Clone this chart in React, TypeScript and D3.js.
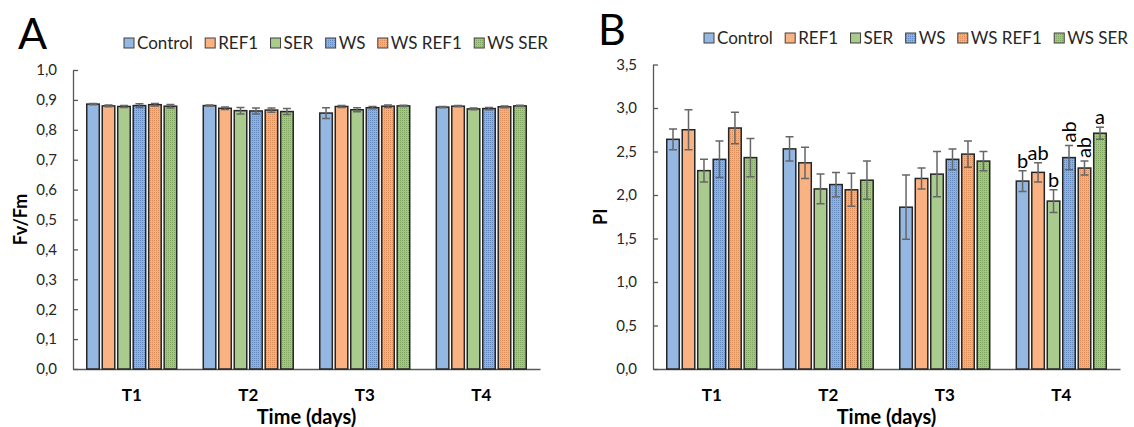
import React, { useEffect, useRef } from 'react';
import * as d3 from 'd3';

const timePoints = ['T1', 'T2', 'T3', 'T4'];
const treatments = ['Control', 'REF1', 'SER', 'WS', 'WS REF1', 'WS SER'];
const baseColors = ['#95b8e2', '#fbb283', '#a9cb8e', '#8fb0da', '#f7ad7c', '#a3c588'];
const dotColors = ['', '', '', '#4a72aa', '#c97b45', '#6a934b'];

// panel A: Fv/Fm, one row per treatment, T1..T4
const fvfmMean = [
  [0.886, 0.881, 0.856, 0.876],
  [0.880, 0.872, 0.878, 0.879],
  [0.878, 0.864, 0.867, 0.870],
  [0.881, 0.863, 0.874, 0.871],
  [0.884, 0.866, 0.879, 0.877],
  [0.879, 0.861, 0.880, 0.880],
];
const fvfmErr = [
  [0.002, 0.002, 0.018, 0.002],
  [0.003, 0.004, 0.003, 0.002],
  [0.003, 0.011, 0.007, 0.003],
  [0.006, 0.010, 0.004, 0.004],
  [0.004, 0.007, 0.004, 0.003],
  [0.006, 0.010, 0.002, 0.002],
];
const fvfmTicks = [0, 0.1, 0.2, 0.3, 0.4, 0.5, 0.6, 0.7, 0.8, 0.9, 1.0];

// panel B: PI
const piMean = [
  [2.64, 2.53, 1.86, 2.16],
  [2.75, 2.37, 2.19, 2.26],
  [2.28, 2.07, 2.24, 1.93],
  [2.41, 2.12, 2.41, 2.43],
  [2.77, 2.06, 2.47, 2.31],
  [2.43, 2.17, 2.39, 2.71],
];
const piErr = [
  [0.12, 0.14, 0.37, 0.12],
  [0.23, 0.18, 0.12, 0.11],
  [0.13, 0.17, 0.26, 0.13],
  [0.21, 0.14, 0.12, 0.14],
  [0.18, 0.19, 0.15, 0.08],
  [0.22, 0.22, 0.11, 0.07],
];
const piTicks = [0, 0.5, 1.0, 1.5, 2.0, 2.5, 3.0, 3.5];
// significance letters at T4
const piLetters = ['b', 'ab', 'b', 'ab', 'ab', 'a'];
const piLetterVertical = [false, false, false, true, true, false];

const FONT = 'Lato, "Open Sans", sans-serif';
const AXIS_COLOR = '#595959';

function drawPanel(svg, opts) {
  const { dx, letter, letterY, yLabel, yMax, ticks, means, errs, yTop, legendY, letters, vertical } = opts;

  const x0 = d3.scaleBand()
    .domain(timePoints)
    .range([73 + dx, 540 + dx])
    .paddingInner(0.228)
    .paddingOuter(0.118);

  const x1 = d3.scaleBand()
    .domain(treatments)
    .range([0, x0.bandwidth()])
    .paddingInner(0.19)
    .paddingOuter(0);

  const y = d3.scaleLinear().domain([0, yMax]).range([369, yTop]);

  const g = svg.append('g');

  // panel letter
  g.append('text')
    .attr('x', 18 + dx)
    .attr('y', letterY)
    .attr('font-family', FONT)
    .attr('font-size', 43)
    .attr('fill', '#000')
    .text(letter);

  // y axis, ticks inside
  const yAxis = g.append('g')
    .attr('transform', `translate(${73 + dx},0)`)
    .call(d3.axisLeft(y)
      .tickValues(ticks)
      .tickSizeInner(-5)
      .tickSizeOuter(0)
      .tickPadding(16)
      .tickFormat(d => d3.format('.1f')(d).replace('.', ',')));
  yAxis.select('.domain').attr('stroke', AXIS_COLOR).attr('stroke-width', 1.3);
  yAxis.selectAll('.tick line').attr('stroke', AXIS_COLOR).attr('stroke-width', 1.3);
  yAxis.selectAll('.tick text')
    .attr('font-family', FONT)
    .attr('font-size', 15)
    .attr('fill', '#262626');

  // x axis
  const xAxis = g.append('g')
    .attr('transform', 'translate(0,369)')
    .call(d3.axisBottom(x0).tickSize(0).tickPadding(20));
  xAxis.select('.domain').attr('stroke', AXIS_COLOR).attr('stroke-width', 1.3);
  xAxis.selectAll('.tick text')
    .attr('font-family', FONT)
    .attr('font-size', 17)
    .attr('font-weight', 'bold')
    .attr('fill', '#000');

  // axis titles
  g.append('text')
    .attr('x', (73 + 540) / 2 + dx)
    .attr('y', 424)
    .attr('text-anchor', 'middle')
    .attr('font-family', FONT)
    .attr('font-size', 20)
    .attr('font-weight', 'bold')
    .text('Time (days)');

  g.append('text')
    .attr('transform', `translate(${27 + dx},${(369 + yTop) / 2}) rotate(-90)`)
    .attr('text-anchor', 'middle')
    .attr('font-family', FONT)
    .attr('font-size', 18)
    .attr('font-weight', 'bold')
    .text(yLabel);

  // bars
  const rows = [];
  treatments.forEach((t, i) => {
    timePoints.forEach((tp, j) => {
      rows.push({ t, i, tp, j, v: means[i][j], e: errs[i][j] });
    });
  });

  const fillFor = i => (dotColors[i] ? `url(#dots-${i})` : baseColors[i]);

  g.selectAll('.bar')
    .data(rows)
    .enter()
    .append('rect')
    .attr('class', 'bar')
    .attr('x', d => x0(d.tp) + x1(d.t))
    .attr('y', d => y(d.v))
    .attr('width', x1.bandwidth())
    .attr('height', d => y(0) - y(d.v))
    .attr('fill', d => fillFor(d.i))
    .attr('stroke', '#262626')
    .attr('stroke-width', 1.5);

  // error bars
  const cx = d => x0(d.tp) + x1(d.t) + x1.bandwidth() / 2;
  const eg = g.append('g').attr('stroke', '#666').attr('stroke-width', 1.5);
  eg.selectAll('.err')
    .data(rows)
    .enter()
    .append('path')
    .attr('fill', 'none')
    .attr('d', d => {
      const top = y(d.v + d.e), bot = y(d.v - d.e), c = cx(d);
      return `M${c},${top}V${bot}M${c - 4},${top}H${c + 4}M${c - 4},${bot}H${c + 4}`;
    });

  // significance letters (T4)
  if (letters) {
    letters.forEach((l, i) => {
      const d = rows.find(r => r.i === i && r.tp === 'T4');
      const top = y(d.v + d.e) - 3;
      if (vertical[i]) {
        g.append('text')
          .attr('transform', `translate(${cx(d) + 7},${top}) rotate(-90)`)
          .attr('font-family', FONT)
          .attr('font-size', 20)
          .text(l);
      } else {
        g.append('text')
          .attr('x', cx(d))
          .attr('y', top)
          .attr('text-anchor', 'middle')
          .attr('font-family', FONT)
          .attr('font-size', 20)
          .text(l);
      }
    });
  }

  // legend, spread between the measured ends
  const lg = g.append('g');
  const items = treatments.map((t, i) => {
    const sw = lg.append('rect')
      .attr('y', legendY - 5)
      .attr('width', 10)
      .attr('height', 10)
      .attr('fill', fillFor(i))
      .attr('stroke', '#404040')
      .attr('stroke-width', 1);
    const txt = lg.append('text')
      .attr('y', legendY)
      .attr('dy', '0.36em')
      .attr('font-family', FONT)
      .attr('font-size', 17)
      .attr('fill', '#262626')
      .text(t);
    return { sw, txt, w: txt.node().getComputedTextLength() };
  });
  const start = 124 + dx, end = 548 + dx;
  const used = d3.sum(items, d => 13 + d.w);
  const gap = (end - start - used) / (items.length - 1);
  let lx = start;
  items.forEach(it => {
    it.sw.attr('x', lx);
    it.txt.attr('x', lx + 13);
    lx += 13 + it.w + gap;
  });
}

export default function App() {
  const svgRef = useRef(null);

  useEffect(() => {
    document.body.style.margin = '0';
    const svg = d3.select(svgRef.current);
    svg.selectAll('*').remove();

    // textured fills for the WS series
    const defs = svg.append('defs');
    treatments.forEach((t, i) => {
      if (!dotColors[i]) return;
      const p = defs.append('pattern')
        .attr('id', `dots-${i}`)
        .attr('patternUnits', 'userSpaceOnUse')
        .attr('width', 2)
        .attr('height', 2);
      p.append('rect').attr('width', 2).attr('height', 2).attr('fill', baseColors[i]);
      p.append('rect').attr('x', 0).attr('y', 0).attr('width', 1).attr('height', 1).attr('fill', dotColors[i]).attr('opacity', 0.6);
    });

    drawPanel(svg, {
      dx: 0, letter: 'A', letterY: 49, yLabel: 'Fv/Fm', yMax: 1.0, ticks: fvfmTicks,
      means: fvfmMean, errs: fvfmErr, yTop: 70, legendY: 43,
    });
    drawPanel(svg, {
      dx: 580, letter: 'B', letterY: 45, yLabel: 'PI', yMax: 3.5, ticks: piTicks,
      means: piMean, errs: piErr, yTop: 64.5, legendY: 38,
      letters: piLetters, vertical: piLetterVertical,
    });
  }, []);

  return (
    <svg ref={svgRef} width={1134} height={427} style={{ display: 'block', background: '#fff' }} />
  );
}
